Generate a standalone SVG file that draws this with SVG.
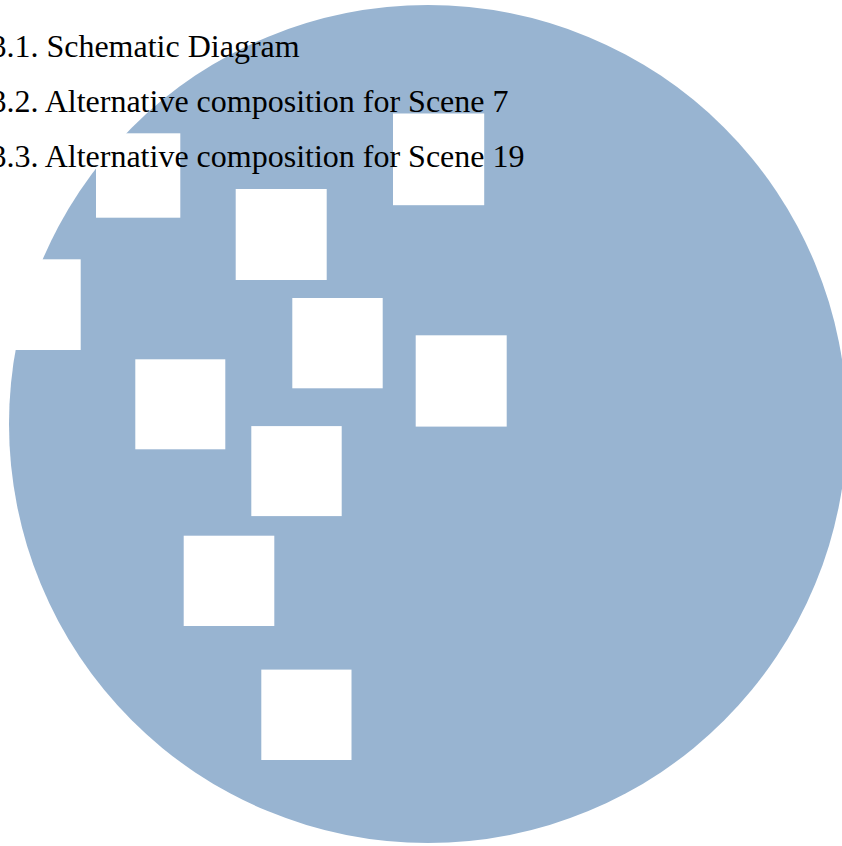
<svg xmlns="http://www.w3.org/2000/svg" width="842" height="846" viewBox="0 0 842 846">
  <style>
    .sq { fill: #ffffff; }
    .lbl { font-family: "Liberation Serif", "Times New Roman", serif; font-size: 32px; fill: #000000; }
  </style>
  <rect x="0" y="0" width="842" height="846" fill="#ffffff"/>
  <circle id="disc" cx="428" cy="424" r="419" fill="#98b4d1"/>
  <g id="squares">
    <g id="sq-a"><rect class="sq" x="96" y="133.3" width="84.3" height="84.4"/></g>
    <g id="sq-b"><rect class="sq" x="235.7" y="189" width="91" height="91"/></g>
    <g id="sq-c"><rect class="sq" x="393" y="113.5" width="91.2" height="91.7"/></g>
    <g id="sq-d"><rect class="sq" x="-10" y="259.3" width="90.7" height="90.7"/></g>
    <g id="sq-e"><rect class="sq" x="292.3" y="298" width="90.4" height="90.3"/></g>
    <g id="sq-f"><rect class="sq" x="415.7" y="335.3" width="91" height="91.3"/></g>
    <g id="sq-g"><rect class="sq" x="135.3" y="359.3" width="90" height="90"/></g>
    <g id="sq-h"><rect class="sq" x="251.3" y="426.1" width="90.4" height="90"/></g>
    <g id="sq-i"><rect class="sq" x="183.7" y="535.7" width="90.6" height="90.3"/></g>
    <g id="sq-j"><rect class="sq" x="261.3" y="669.6" width="90.2" height="90.4"/></g>
  </g>
  <g id="labels">
    <text class="lbl" x="-9.6" y="56.5">3.1. Schematic Diagram</text>
    <text class="lbl" x="-9.6" y="111.5">3.2. Alternative composition for Scene 7</text>
    <text class="lbl" x="-9.6" y="166.5">3.3. Alternative composition for Scene 19</text>
  </g>
</svg>
